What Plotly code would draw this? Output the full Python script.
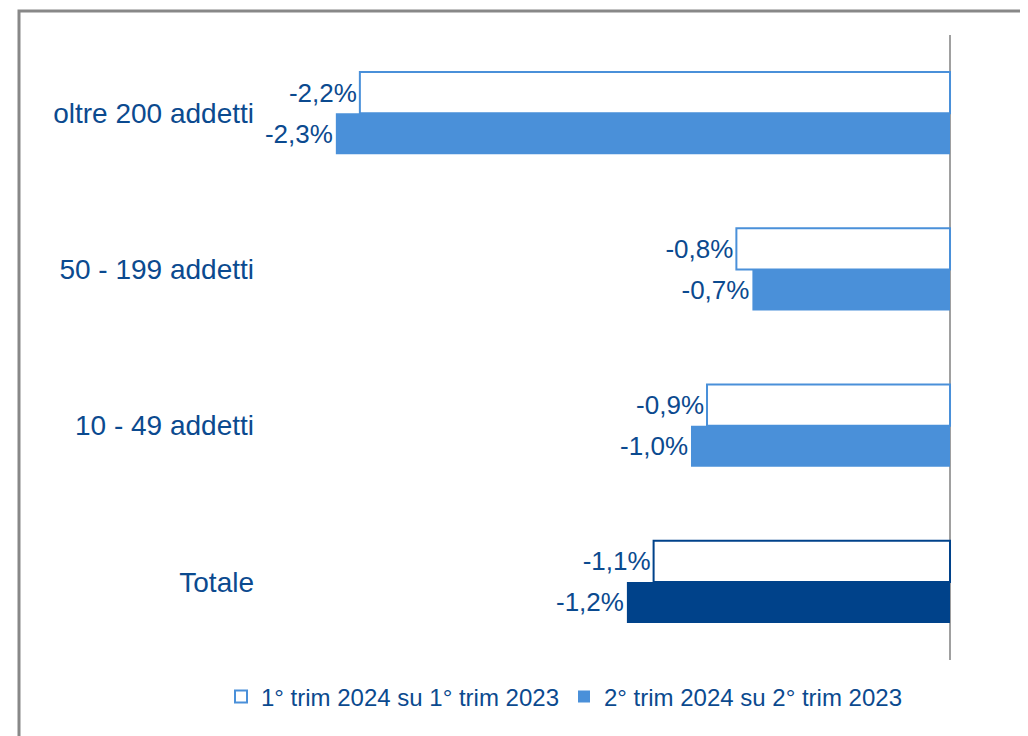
import plotly.graph_objects as go

categories = ["oltre 200 addetti", "50 - 199 addetti", "10 - 49 addetti", "Totale"]
series_names = ["1° trim 2024 su 1° trim 2023", "2° trim 2024 su 2° trim 2023"]
q1_values = [-2.21, -0.80, -0.91, -1.11]
q2_values = [-2.30, -0.74, -0.97, -1.21]

LIGHT = "#4A90D9"
DARK = "#00428A"
TEXT = "#0B4A8F"

def fmt(v):
    return f"{v:.1f}%".replace(".", ",")

q1_line_colors = [LIGHT, LIGHT, LIGHT, DARK]
q2_fill_colors = [LIGHT, LIGHT, LIGHT, DARK]

FONT = "Liberation Sans, Arial"

fig = go.Figure()
fig.add_trace(go.Bar(
    y=categories, x=q1_values, orientation="h", name=series_names[0],
    marker=dict(color="white", line=dict(color=q1_line_colors, width=2)),
    text=[fmt(v) for v in q1_values], textposition="outside",
    textfont=dict(size=26, color=TEXT, family=FONT),
    cliponaxis=False, constraintext="none",
))
fig.add_trace(go.Bar(
    y=categories, x=q2_values, orientation="h", name=series_names[1],
    marker=dict(color=q2_fill_colors, line=dict(width=0)),
    text=[fmt(v) for v in q2_values], textposition="outside",
    textfont=dict(size=26, color=TEXT, family=FONT),
    cliponaxis=False, constraintext="none",
))

# page has an 8px body margin; the figure is sized to the remaining view
W, H = 1020, 728
L, R, T, B = 252, 73, 27, 76
pw = W - L - R
ph = H - T - B

fig.update_layout(
    width=W, height=H,
    margin=dict(l=L, r=R, t=T, b=B, pad=0),
    paper_bgcolor="white", plot_bgcolor="white",
    barmode="group", bargap=0.474, bargroupgap=0,
    font=dict(family=FONT, color=TEXT),
    showlegend=True,
    legend=dict(orientation="h", x=(556 - L) / pw, xanchor="center",
                y=(H - B - 689) / ph, yanchor="middle",
                font=dict(size=24, color=TEXT, family=FONT), itemwidth=30,
                traceorder="normal"),
    xaxis=dict(range=[-2.584, 0.0187], showgrid=False, showticklabels=False,
               zeroline=True, zerolinecolor="#A0A0A0", zerolinewidth=2,
               showline=False, fixedrange=True),
    yaxis=dict(autorange="reversed", showgrid=False, showline=False,
               ticks="", tickfont=dict(size=28, color=TEXT, family=FONT),
               ticklabelstandoff=5),
    shapes=[dict(type="rect", xref="paper", yref="paper",
                 x0=(11 - L) / pw, x1=1.3, y0=-0.3, y1=1 + (T - 3) / ph,
                 line=dict(color="#888888", width=3), fillcolor="rgba(0,0,0,0)",
                 layer="below")],
)

fig.write_html("out.html")
